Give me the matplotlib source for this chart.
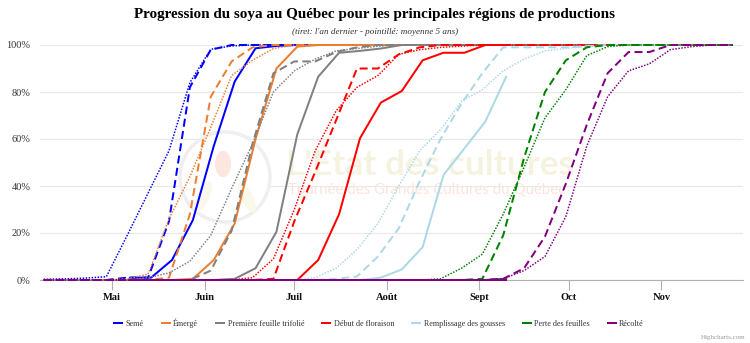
import matplotlib
matplotlib.use("Agg")
import matplotlib.pyplot as plt
import matplotlib.dates as mdates
from matplotlib.lines import Line2D
from matplotlib.patches import Circle, Ellipse
from matplotlib.transforms import IdentityTransform
from datetime import datetime

YEAR = 2023

def to_date(s):
    m, d = s.split("-")
    return datetime(YEAR, int(m), int(d))

# ---------------- data ----------------
stages = ["Semé", "Émergé", "Première feuille trifolié", "Début de floraison",
          "Remplissage des gousses", "Perte des feuilles", "Récolté"]
colors = ["#0000ff", "#ed7d31", "#808080", "#ff0000", "#add8e6", "#008000", "#800080"]

# weekly dates, current season (solid lines)
dates_now = ["05-07", "05-14", "05-21", "05-28", "06-04", "06-11", "06-18", "06-25",
             "07-02", "07-09", "07-16", "07-23", "07-30", "08-06", "08-13", "08-20",
             "08-27", "09-03", "09-10"]
# weekly dates, last year (dashed) and 5-year average (dotted)
dates_hist = ["04-08", "04-15", "04-22", "04-29", "05-06", "05-13", "05-20", "05-27",
              "06-03", "06-10", "06-17", "06-24", "07-01", "07-08", "07-15", "07-22",
              "07-29", "08-05", "08-12", "08-19", "08-26", "09-02", "09-09", "09-16",
              "09-23", "09-30", "10-07", "10-14", "10-21", "10-28", "11-04", "11-11",
              "11-18", "11-25"]

semis_now = [1, 1, 8.5, 25.5, 57, 84.4, 98.6, 99.6, 100, 100, 100, 100, 100, 100, 100, 100, 100, 100, 100]
emerge_now = [0, 0, 0, 0.5, 8.5, 24, 60, 90, 99.3, 100, 100, 100, 100, 100, 100, 100, 100, 100, 100]
trifol_now = [0, 0, 0, 0, 0, 0.5, 5, 20.5, 62, 86.5, 96.7, 97.5, 98.5, 100, 100, 100, 100, 100, 100]
flor_now = [0, 0, 0, 0, 0, 0, 0, 0, 0, 8.5, 28, 60.3, 75.5, 80.4, 93.5, 96.7, 96.7, 100, 100]
gousses_now = [0, 0, 0, 0, 0, 0, 0, 0, 0, 0, 0, 0, 1, 4.5, 14, 44.7, 56, 67.4, 86.5]
feuilles_now = [0, 0, 0, 0, 0, 0, 0, 0, 0, 0, 0, 0, 0, 0, 0, 0, 0, 0, 0.5]
recolte_now = [0, 0, 0, 0, 0, 0, 0, 0, 0, 0, 0, 0, 0, 0, 0, 0, 0, 0, 0]

semis_ly = [0, 0, 0, 0, 1, 1, 25, 82, 98, 100, 100, 100, 100, 100, 100, 100, 100,
            100, 100, 100, 100, 100, 100, 100, 100, 100, 100, 100, 100, 100, 100, 100, 100, 100]
emerge_ly = [0, 0, 0, 0, 0, 0, 1, 28, 78, 93, 99, 100, 100, 100, 100, 100, 100,
             100, 100, 100, 100, 100, 100, 100, 100, 100, 100, 100, 100, 100, 100, 100, 100, 100]
trifol_ly = [0, 0, 0, 0, 0, 0, 0, 0, 4, 21, 58, 88, 93, 93, 97, 99, 100,
             100, 100, 100, 100, 100, 100, 100, 100, 100, 100, 100, 100, 100, 100, 100, 100, 100]
flor_ly = [0, 0, 0, 0, 0, 0, 0, 0, 0, 0, 0, 0.5, 25, 46, 68, 90, 90,
           96, 99, 100, 100, 100, 100, 100, 100, 100, 100, 100, 100, 100, 100, 100, 100, 100]
gousses_ly = [0, 0, 0, 0, 0, 0, 0, 0, 0, 0, 0, 0, 0, 0, 0.5, 1.5, 10,
              22, 42, 60, 75, 88, 99, 99, 99, 99, 99.5, 100, 100, 100, 100, 100, 100, 100]
feuilles_ly = [0, 0, 0, 0, 0, 0, 0, 0, 0, 0, 0, 0, 0, 0, 0, 0, 0,
               0, 0, 0, 0, 0.5, 19, 52, 80, 93.5, 99, 100, 100, 100, 100, 100, 100, 100]
recolte_ly = [0, 0, 0, 0, 0, 0, 0, 0, 0, 0, 0, 0, 0, 0, 0, 0, 0,
              0, 0, 0, 0, 0, 0.5, 5, 18.5, 41, 66, 88, 97, 97, 100, 100, 100, 100]

semis_5y = [0.3, 0.5, 0.8, 1.4, 19, 37, 55, 84, 98.2, 99.6, 100, 100, 100, 100, 100, 100, 100,
            100, 100, 100, 100, 100, 100, 100, 100, 100, 100, 100, 100, 100, 100, 100, 100, 100]
emerge_5y = [0, 0, 0, 0, 0.5, 2.5, 26, 44, 65, 87, 93.5, 98.5, 100, 100, 100, 100, 100,
             100, 100, 100, 100, 100, 100, 100, 100, 100, 100, 100, 100, 100, 100, 100, 100, 100]
trifol_5y = [0, 0, 0, 0, 0, 1, 3, 8, 19, 39, 58, 80, 89, 94, 97.5, 98.5, 99.5,
             100, 100, 100, 100, 100, 100, 100, 100, 100, 100, 100, 100, 100, 100, 100, 100, 100]
flor_5y = [0, 0, 0, 0, 0, 0, 0, 0, 0, 0, 1, 9, 30, 55, 72, 82, 87,
           96, 98, 99, 99.5, 100, 100, 100, 100, 100, 100, 100, 100, 100, 100, 100, 100, 100]
gousses_5y = [0, 0, 0, 0, 0, 0, 0, 0, 0, 0, 0, 0, 0, 1, 5, 13, 24,
              40, 55, 64, 76, 81, 89, 94, 97.5, 98.5, 99.5, 100, 100, 100, 100, 100, 100, 100]
feuilles_5y = [0, 0, 0, 0, 0, 0, 0, 0, 0, 0, 0, 0, 0, 0, 0, 0, 0,
               0, 0, 0.5, 5, 11, 28, 48, 69, 81, 95.5, 99.3, 100, 100, 100, 100, 100, 100]
recolte_5y = [0, 0, 0, 0, 0, 0, 0, 0, 0, 0, 0, 0, 0, 0, 0, 0, 0,
              0, 0, 0, 0, 0, 0.5, 4, 10, 27, 57, 78, 89, 92, 98, 99.3, 100, 100]

series_now = [semis_now, emerge_now, trifol_now, flor_now, gousses_now, feuilles_now, recolte_now]
series_ly = [semis_ly, emerge_ly, trifol_ly, flor_ly, gousses_ly, feuilles_ly, recolte_ly]
series_5y = [semis_5y, emerge_5y, trifol_5y, flor_5y, gousses_5y, feuilles_5y, recolte_5y]

month_ticks = ["05-01", "06-01", "07-01", "08-01", "09-01", "10-01", "11-01"]
month_labels = ["Mai", "Juin", "Juil", "Août", "Sept", "Oct", "Nov"]
y_ticks = [0, 20, 40, 60, 80, 100]

# ---------------- figure ----------------
W, H = 750, 343
fig = plt.figure(figsize=(W / 100, H / 100), dpi=100)
ax = fig.add_axes([40 / W, 63 / H, 703 / W, 235 / H])
SERIF = "Liberation Serif"

x_now = [to_date(s) for s in dates_now]
x_hist = [to_date(s) for s in dates_hist]

PX = 0.72  # points per pixel
for i in range(len(stages)):
    c = colors[i]
    ax.plot(x_now, series_now[i], color=c, lw=2 * PX, solid_joinstyle="round",
            clip_on=False, zorder=3)
    ax.plot(x_hist, series_ly[i], color=c, lw=2 * PX, linestyle=(0, (4, 2.2)),
            dash_capstyle="butt", clip_on=False, zorder=3)
    ax.plot(x_hist, series_5y[i], color=c, lw=1.5 * PX, linestyle=(0, (1, 1)),
            dash_capstyle="butt", clip_on=False, zorder=3)

base = datetime(YEAR, 5, 1)
ax.set_xlim(mdates.date2num(base) - 24.23, mdates.date2num(base) + 211.36)
ax.set_ylim(0, 100)

ax.set_xticks([to_date(s) for s in month_ticks])
ax.set_xticklabels(month_labels, fontfamily=SERIF, fontweight="bold", fontsize=7.6,
                   color="#111111")
ax.set_yticks(y_ticks)
ax.set_yticklabels([f"{v}%" for v in y_ticks], fontfamily=SERIF, fontsize=7.4,
                   color="#333333")
ax.tick_params(axis="x", length=7.2, width=0.8, color="#b0b0b0", pad=2)
ax.tick_params(axis="y", length=0, pad=7)
ax.yaxis.grid(True, color="#e8e8e8", lw=0.8, zorder=0)
ax.set_axisbelow(True)
for side in ["top", "right", "left"]:
    ax.spines[side].set_visible(False)
ax.spines["bottom"].set_color("#b0b0b0")
ax.spines["bottom"].set_linewidth(0.8)

# watermark (logo + text), in pixel coordinates
def px(x, y):
    return (x, H - y)

ident = IdentityTransform()
ax.add_artist(Circle(px(225, 177), 45, transform=ident, facecolor="#ffffff",
                     edgecolor="#efefef", lw=2.5, zorder=1, clip_on=False))
ax.add_artist(Ellipse(px(223, 164), 16, 26, transform=ident, facecolor="#fce6e0",
                      edgecolor="none", zorder=1, clip_on=False))
ax.add_artist(Ellipse(px(203, 197), 12, 34, angle=-25, transform=ident,
                      facecolor="#faf8ea", edgecolor="none", zorder=1, clip_on=False))
ax.add_artist(Ellipse(px(247, 197), 12, 34, angle=25, transform=ident,
                      facecolor="#faf8ea", edgecolor="none", zorder=1, clip_on=False))
ax.text(*px(286, 175), "L'État des cultures", transform=ident, fontsize=25.4,
        fontfamily="Lato", fontweight="bold", color="#f5f3df", ha="left",
        va="baseline", zorder=1)
ax.text(*px(288, 194), "Tournée des Grandes Cultures du Québec", transform=ident,
        fontsize=10.8, fontfamily="Lato", color="#fbe4dd", ha="left",
        va="baseline", zorder=1)

# titles
fig.text(0.5, 1 - 14.5 / H,
         "Progression du soya au Québec pour les principales régions de productions",
         ha="center", va="center", fontfamily=SERIF, fontweight="bold",
         fontsize=10.9, color="#000000")
fig.text(0.5, 1 - 32.5 / H, "(tiret: l'an dernier - pointillé: moyenne 5 ans)",
         ha="center", va="center", fontfamily=SERIF, fontstyle="italic",
         fontsize=6.6, color="#333333")

# legend
handles = [Line2D([], [], color=c, lw=2 * PX) for c in colors]
fig.legend(handles, stages, loc="center", bbox_to_anchor=(379 / W, 1 - 323 / H),
           ncol=7, frameon=False, prop={"family": SERIF, "size": 5.9},
           handlelength=1.0, handletextpad=0.4, columnspacing=2.2, borderpad=0,
           labelcolor="#333333")

fig.text(1 - 5 / W, 1 - 337 / H, "Highcharts.com", ha="right", va="center",
         fontfamily=SERIF, fontsize=5, color="#999999")

fig.savefig("out.png", dpi=100)
